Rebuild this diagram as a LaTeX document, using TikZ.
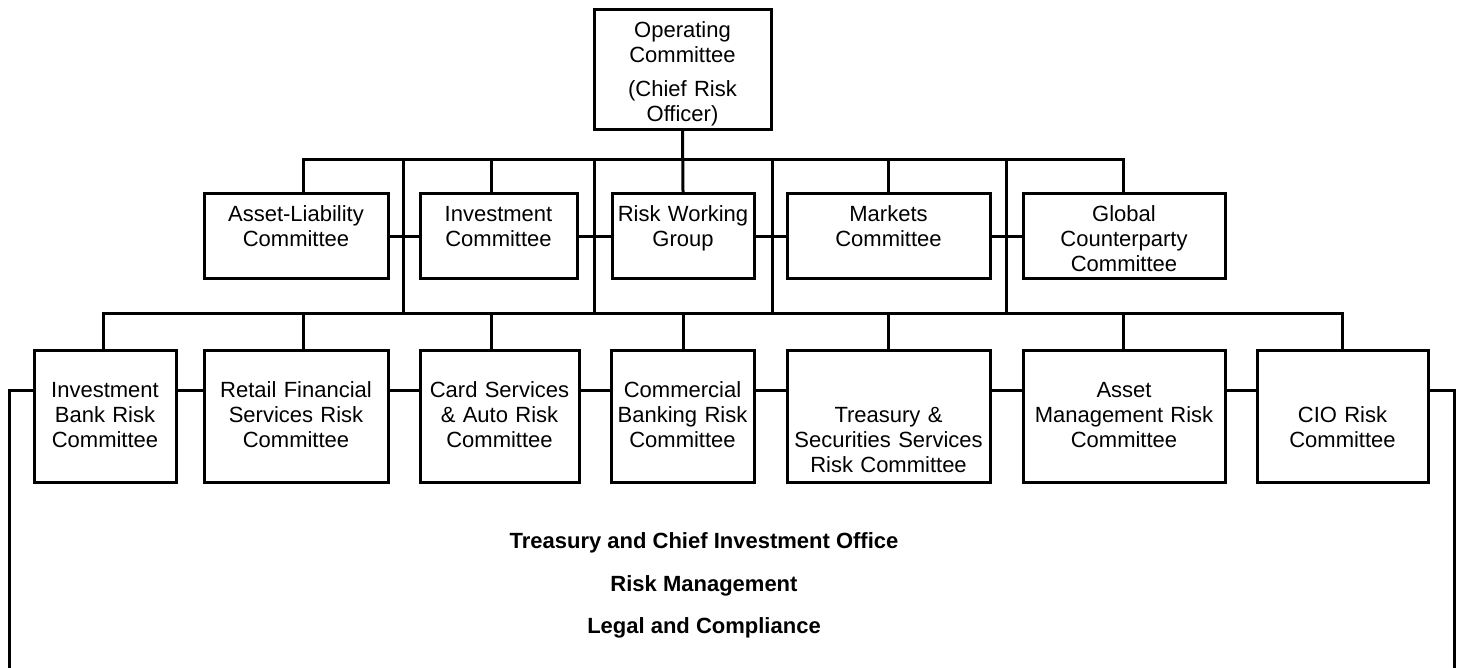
\documentclass[tikz,border=0pt]{standalone}
\usepackage{fontspec}
\setmainfont{Liberation Sans}
\usepackage{tikz}

\tikzset{
  box/.style={draw, line width=1.5pt, inner sep=0pt, align=center, anchor=north,
    font=\fontsize{11pt}{12.5pt}\selectfont},
  toprow/.style={box, text height=14pt, text depth=46pt},
  midrow/.style={box, text height=14pt, text depth=28.5pt},
  lowrow/.style={box, text height=23.5pt, text depth=42.5pt},
  link/.style={line width=1.5pt},
  note/.style={anchor=base, inner sep=0pt, font=\fontsize{11pt}{12.5pt}\selectfont\bfseries}
}

\begin{document}
\begin{tikzpicture}[x=0.5pt,y=-0.5pt]
	\useasboundingbox (0,0) rectangle (1459,668);
	% top
	\node [toprow, text width=88.5pt] (top) at (682.5,8) {Operating\\Committee\\[4.5pt](Chief Risk\\Officer)};
	% committees
	\node [midrow, text width=92pt] (alc) at (296,192) {Asset-Liability\\Committee};
	\node [midrow, text width=78.5pt] (inv) at (498.5,192) {Investment\\Committee};
	\node [midrow, text width=71pt] (rwg) at (683,192) {Risk Working\\Group};
	\node [midrow, text width=101.5pt] (mkt) at (888.5,192) {Markets\\Committee};
	\node [midrow, text width=101pt] (gcc) at (1124,192) {Global\\Counterparty\\Committee};
	% business risk committees
	\node [lowrow, text width=71pt] (ibr) at (105,349) {Investment\\Bank Risk\\Committee};
	\node [lowrow, text width=92pt] (rfs) at (296,349) {Retail Financial\\Services Risk\\Committee};
	\node [lowrow, text width=79.5pt] (csa) at (499.5,349) {Card Services\\\& Auto Risk\\Committee};
	\node [lowrow, text width=71.5pt] (cbr) at (682.5,349) {Commercial\\Banking Risk\\Committee};
	\node [lowrow, text width=101.5pt] (tss) at (888.5,349) {\mbox{}\\Treasury \&\\Securities Services\\Risk Committee};
	\node [lowrow, text width=101pt] (amr) at (1124,349) {Asset\\Management Risk\\Committee};
	\node [lowrow, text width=85.5pt] (cio) at (1342.5,349) {\mbox{}\\CIO Risk\\Committee};
	% support functions
	\node [note] (tco) at (704,548) {Treasury and Chief Investment Office};
	\node [note] (rm) at (704,591) {Risk Management};
	\node [note] (lc) at (704,633) {Legal and Compliance};

	\coordinate (u1) at (303,160);
	\coordinate (u5) at (1123,160);
	\coordinate (l1) at (103,313);
	\coordinate (l7) at (1342,313);
	\coordinate (sideW) at (9,390);
	\coordinate (sideE) at (1454,390);
	\coordinate (endW) at (9,668);
	\coordinate (endE) at (1454,668);

	% upper bus
	\draw [link] (alc.north -| u1) -- (u1) -- (u5) -- (gcc.north -| u5);
	\draw [link] (top.south) -- (rwg.north);
	\draw [link] (u1 -| 491,0) -- (inv.north -| 491,0);
	\draw [link] (u1 -| 888,0) -- (mkt.north -| 888,0);
	\foreach \x in {403,594,772,1006}
		\draw [link] (u1 -| \x,0) -- (l1 -| \x,0);
	\foreach \a/\b in {alc/inv,inv/rwg,rwg/mkt,mkt/gcc}
		\draw [link] (\a) -- (\b);
	% lower bus
	\draw [link] (ibr.north -| l1) -- (l1) -- (l7) -- (cio.north -| l7);
	\foreach \n/\x in {rfs/303,csa/491,cbr/683,tss/888,amr/1123}
		\draw [link] (l1 -| \x,0) -- (\n.north -| \x,0);
	\foreach \a/\b in {ibr/rfs,rfs/csa,csa/cbr,cbr/tss,tss/amr,amr/cio}
		\draw [link] (\a.east |- sideW) -- (\b.west |- sideW);
	\draw [link] (endW) |- (ibr.west |- sideW);
	\draw [link] (endE) |- (cio.east |- sideE);
\end{tikzpicture}
\end{document}
